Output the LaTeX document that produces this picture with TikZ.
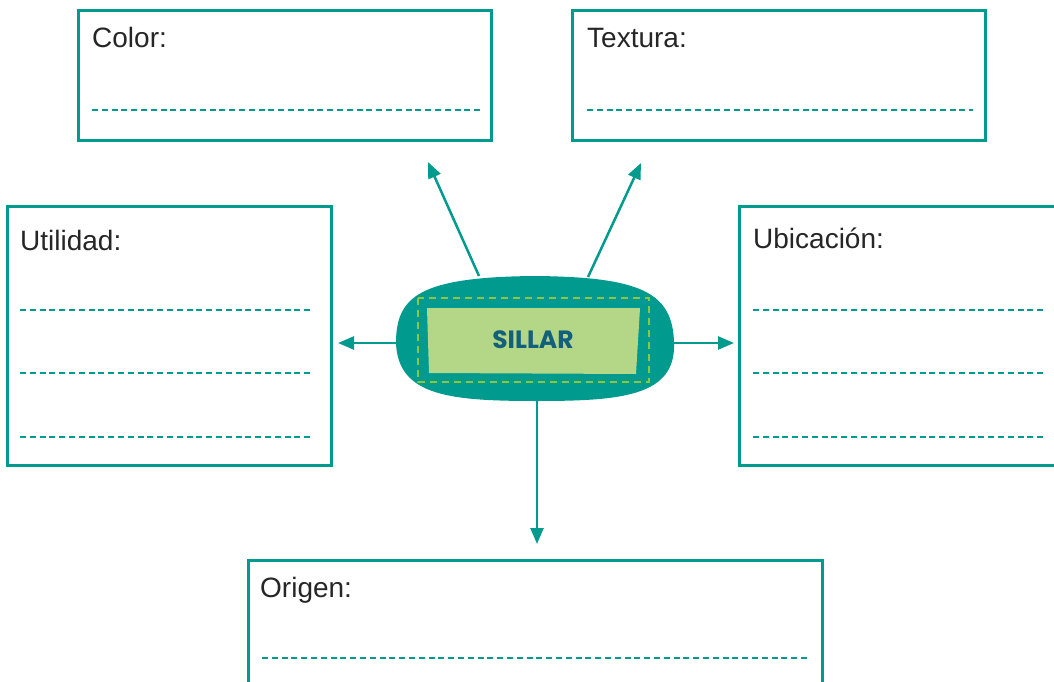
\documentclass[tikz,border=0pt]{standalone}
\usepackage{fontspec}
\setmainfont{Liberation Sans}
\newfontfamily\hubfont{Poppins}
\usetikzlibrary{arrows.meta}
\definecolor{teal}{RGB}{0,154,142}
\definecolor{lime}{RGB}{141,198,63}
\definecolor{paleleaf}{RGB}{180,214,135}
\definecolor{deepsea}{RGB}{18,96,122}

\begin{document}
\begin{tikzpicture}[x=1pt,y=-1pt,
    infobox/.style={draw=teal, line width=3pt, fill=white},
    boxtitle/.style={anchor=base west, inner sep=0pt, font=\fontsize{28}{32}\selectfont, text=black!85},
    writeline/.style={draw=teal, line width=2.5pt, dash pattern=on 6pt off 3.8pt},
    link/.style={draw=teal, line width=2.5pt, -{Triangle[length=16pt,width=13pt]}}]
    \clip (0,0) rectangle (1054,682);

    % Draw the top boxes
    \draw[infobox] (78,11) rectangle (491,140);
    \node[boxtitle] (color) at (92,48) {Color:};
    \draw[writeline] (92,110) -- (480,110);

    \draw[infobox] (572,11) rectangle (985,140);
    \node[boxtitle] (textura) at (587,48) {Textura:};
    \draw[writeline] (587,110) -- (973,110);

    % Draw the side boxes with three lines each
    \draw[infobox] (7,206) rectangle (331,465);
    \node[boxtitle] (utilidad) at (20,250) {Utilidad:};
    \draw[infobox] (739,206) rectangle (1070,465);
    \node[boxtitle] (ubicacion) at (753,248) {Ubicación:};
    \foreach \y in {310,373,437} {
        \draw[writeline] (20,\y) -- (313,\y);
        \draw[writeline] (753,\y) -- (1045,\y);
    }

    % Draw the bottom box
    \draw[infobox] (248,560) rectangle (822,700);
    \node[boxtitle] (origen) at (260,597) {Origen:};
    \draw[writeline] (262,658) -- (810,658);

    % Draw the centre blob and its label
    \fill[teal] (396,343) .. controls (396,296) and (420,277) .. (535,276)
        .. controls (640,277) and (673,292) .. (674,343)
        .. controls (676,396) and (622,401) .. (537,401)
        .. controls (450,401) and (398,396) .. (396,343) -- cycle;
    \draw[lime, line width=2.6pt, dash pattern=on 7pt off 5pt] (418,298) rectangle (649,382);
    \fill[paleleaf] (427,308) -- (640,308) -- (636,374) -- (429,373) -- cycle;
    \node[font=\hubfont\bfseries\fontsize{25}{28}\selectfont, text=deepsea] (sillar) at (533,340) {SILLAR};

    % Arrow ends
    \coordinate (hub-nw) at (479,276);
    \coordinate (hub-ne) at (588,277);
    \coordinate (hub-w) at (396,343);
    \coordinate (hub-e) at (674,343);
    \coordinate (hub-s) at (537,401);
    \coordinate (to-color) at (428,162);
    \coordinate (to-textura) at (641,163);
    \coordinate (to-utilidad) at (338,343);
    \coordinate (to-ubicacion) at (734,343);
    \coordinate (to-origen) at (537,544);

    % Draw the arrows
    \draw[link] (hub-nw) -- (to-color);
    \draw[link] (hub-ne) -- (to-textura);
    \draw[link] (hub-w) -- (to-utilidad);
    \draw[link] (hub-e) -- (to-ubicacion);
    \draw[link] (hub-s) -- (to-origen);
\end{tikzpicture}
\end{document}
